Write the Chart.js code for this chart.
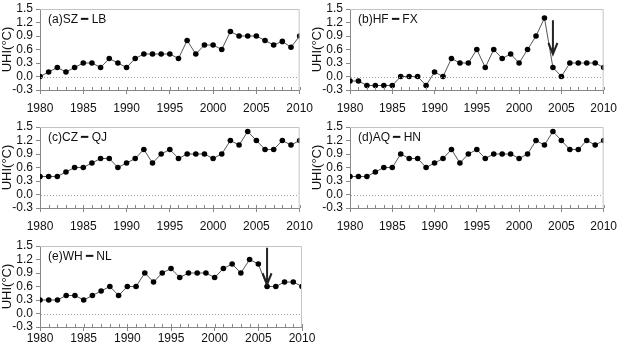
<!DOCTYPE html>
<html>
<head>
<meta charset="utf-8">
<script src="https://cdn.jsdelivr.net/npm/chart.js@4/dist/chart.umd.min.js"></script>
<style>
  html, body { margin: 0; padding: 0; background: #fff; width: 624px; height: 350px; overflow: hidden; }
  .panel { position: absolute; }
</style>
</head>
<body>
<div class="panel" style="left:0;top:0"><canvas id="pa" width="320" height="118"></canvas></div>
<div class="panel" style="left:310px;top:0"><canvas id="pb" width="314" height="118"></canvas></div>
<div class="panel" style="left:0;top:118px"><canvas id="pc" width="320" height="118"></canvas></div>
<div class="panel" style="left:310px;top:118px"><canvas id="pd" width="314" height="118"></canvas></div>
<div class="panel" style="left:0;top:237px"><canvas id="pe" width="320" height="113"></canvas></div>
<script>
const years = [];
for (let y = 1980; y <= 2010; y++) years.push(y);

const szLb = [0.0, 0.1, 0.2, 0.1, 0.2, 0.3, 0.3, 0.2, 0.4, 0.3, 0.2, 0.4, 0.5, 0.5, 0.5, 0.5,
  0.4, 0.8, 0.5, 0.7, 0.7, 0.6, 1.0, 0.9, 0.9, 0.9, 0.8, 0.7, 0.78, 0.65, 0.9];
const hfFx = [-0.1, -0.1, -0.2, -0.2, -0.2, -0.2, 0.0, 0.0, 0.0, -0.2, 0.1, 0.0, 0.4, 0.3, 0.3, 0.6,
  0.2, 0.6, 0.4, 0.5, 0.3, 0.6, 0.9, 1.3, 0.2, 0.0, 0.3, 0.3, 0.3, 0.3, 0.2];
const czQj = [0.4, 0.4, 0.4, 0.5, 0.6, 0.6, 0.7, 0.8, 0.8, 0.6, 0.7, 0.8, 1.0, 0.7, 0.9, 1.0,
  0.8, 0.9, 0.9, 0.9, 0.8, 0.9, 1.2, 1.1, 1.4, 1.2, 1.0, 1.0, 1.2, 1.1, 1.2];
const aqHn = [0.4, 0.4, 0.4, 0.5, 0.6, 0.6, 0.9, 0.8, 0.8, 0.6, 0.7, 0.8, 1.0, 0.7, 0.9, 1.0,
  0.8, 0.9, 0.9, 0.9, 0.8, 0.9, 1.2, 1.1, 1.4, 1.2, 1.0, 1.0, 1.2, 1.1, 1.2];
const whNl = [0.3, 0.3, 0.3, 0.4, 0.4, 0.3, 0.4, 0.5, 0.6, 0.4, 0.6, 0.6, 0.9, 0.7, 0.9, 1.0,
  0.8, 0.9, 0.9, 0.9, 0.8, 1.0, 1.1, 0.9, 1.2, 1.1, 0.6, 0.6, 0.7, 0.7, 0.6];

// arrows: [year, start value, tip value]
const arrowHf = [2004, 1.25, 0.5];
const arrowWh = [2006, 1.46, 0.65];

const yTicks = [-0.3, 0.0, 0.3, 0.6, 0.9, 1.2, 1.5];
const FONT = "'Liberation Sans', Arial, sans-serif";

const panelPlugin = {
  id: 'panelDecor',
  afterDraw(chart, args, opts) {
    const { ctx, chartArea: a, scales } = chart;
    ctx.save();
    // light frame
    ctx.strokeStyle = '#c4c4c4';
    ctx.lineWidth = 1;
    ctx.beginPath();
    ctx.moveTo(a.left, a.top + 0.5);
    ctx.lineTo(a.right - 0.5, a.top + 0.5);
    ctx.lineTo(a.right - 0.5, a.bottom);
    ctx.stroke();
    // minor ticks on the x axis, pointing up
    ctx.strokeStyle = '#888';
    years.forEach((yr) => {
      const x = Math.round(scales.x.getPixelForValue(yr)) + 0.5;
      ctx.beginPath();
      ctx.moveTo(x, a.bottom);
      ctx.lineTo(x, a.bottom - 3);
      ctx.stroke();
    });
    // dotted zero line
    const y0 = Math.round(scales.y.getPixelForValue(0)) + 0.5;
    ctx.strokeStyle = '#a0a0a0';
    ctx.setLineDash([1, 2]);
    ctx.beginPath();
    ctx.moveTo(a.left + 1, y0);
    ctx.lineTo(a.right - 1, y0);
    ctx.stroke();
    ctx.setLineDash([]);
    // panel label
    ctx.fillStyle = '#111';
    ctx.font = '12px ' + FONT;
    ctx.textBaseline = 'middle';
    ctx.fillText(opts.label, a.left + 8, a.top + 11);
    // arrow
    if (opts.arrow) {
      const [yr, from, to] = opts.arrow;
      const x = scales.x.getPixelForValue(yr);
      const y1 = scales.y.getPixelForValue(from);
      const y2 = scales.y.getPixelForValue(to);
      ctx.strokeStyle = '#222';
      ctx.lineWidth = 2;
      ctx.beginPath();
      ctx.moveTo(x, y1);
      ctx.lineTo(x, y2);
      ctx.moveTo(x - 4.5, y2 - 11);
      ctx.lineTo(x, y2);
      ctx.lineTo(x + 4.5, y2 - 11);
      ctx.stroke();
    }
    ctx.restore();
  },
};

function makePanel(id, label, values, arrow, padRight, xHeight, labelPad) {
  const points = years.map((yr, i) => ({ x: yr, y: values[i] }));
  return new Chart(document.getElementById(id), {
    type: 'line',
    data: {
      datasets: [{
        data: points,
        borderColor: '#555',
        borderWidth: 1,
        pointRadius: 2.8,
        pointBackgroundColor: '#000',
        pointBorderColor: '#000',
        pointBorderWidth: 0,
        tension: 0,
      }],
    },
    options: {
      responsive: false,
      animation: false,
      layout: { padding: { top: 6, right: padRight, bottom: 0, left: 0 } },
      plugins: {
        legend: { display: false },
        tooltip: { enabled: false },
        panelDecor: { label, arrow },
      },
      scales: {
        x: {
          type: 'linear',
          min: 1980,
          max: 2010,
          afterFit: (s) => { s.height = xHeight; },
          grid: { drawOnChartArea: false, drawTicks: true, tickLength: 4, color: '#888' },
          border: { color: '#888' },
          ticks: {
            stepSize: 5,
            padding: labelPad,
            maxRotation: 0,
            autoSkip: false,
            color: '#111',
            font: { family: FONT, size: 12 },
            callback: (v) => String(v),
          },
        },
        y: {
          min: yTicks[0],
          max: yTicks[yTicks.length - 1],
          afterFit: (s) => { s.width = 40; },
          afterBuildTicks: (s) => { s.ticks = yTicks.map((v) => ({ value: v })); },
          grid: { drawOnChartArea: false, drawTicks: true, tickLength: 4, color: '#888' },
          border: { color: '#888' },
          ticks: {
            padding: 3,
            autoSkip: false,
            color: '#111',
            font: { family: FONT, size: 12, lineHeight: 1 },
            callback: (v) => Number(v).toFixed(1),
          },
          title: {
            display: true,
            text: 'UHI(°C)',
            color: '#111',
            padding: 0,
            font: { family: FONT, size: 13 },
          },
        },
      },
    },
    plugins: [panelPlugin],
  });
}

makePanel('pa', '(a)SZ ━ LB', szLb, null, 18, 28, 7);
makePanel('pb', '(b)HF ━ FX', hfFx, arrowHf, 14, 28, 7);
makePanel('pc', '(c)CZ ━ QJ', czQj, null, 18, 28, 7);
makePanel('pd', '(d)AQ ━ HN', aqHn, null, 14, 28, 7);
makePanel('pe', '(e)WH ━ NL', whNl, arrowWh, 18, 23, 0);
</script>
</body>
</html>
